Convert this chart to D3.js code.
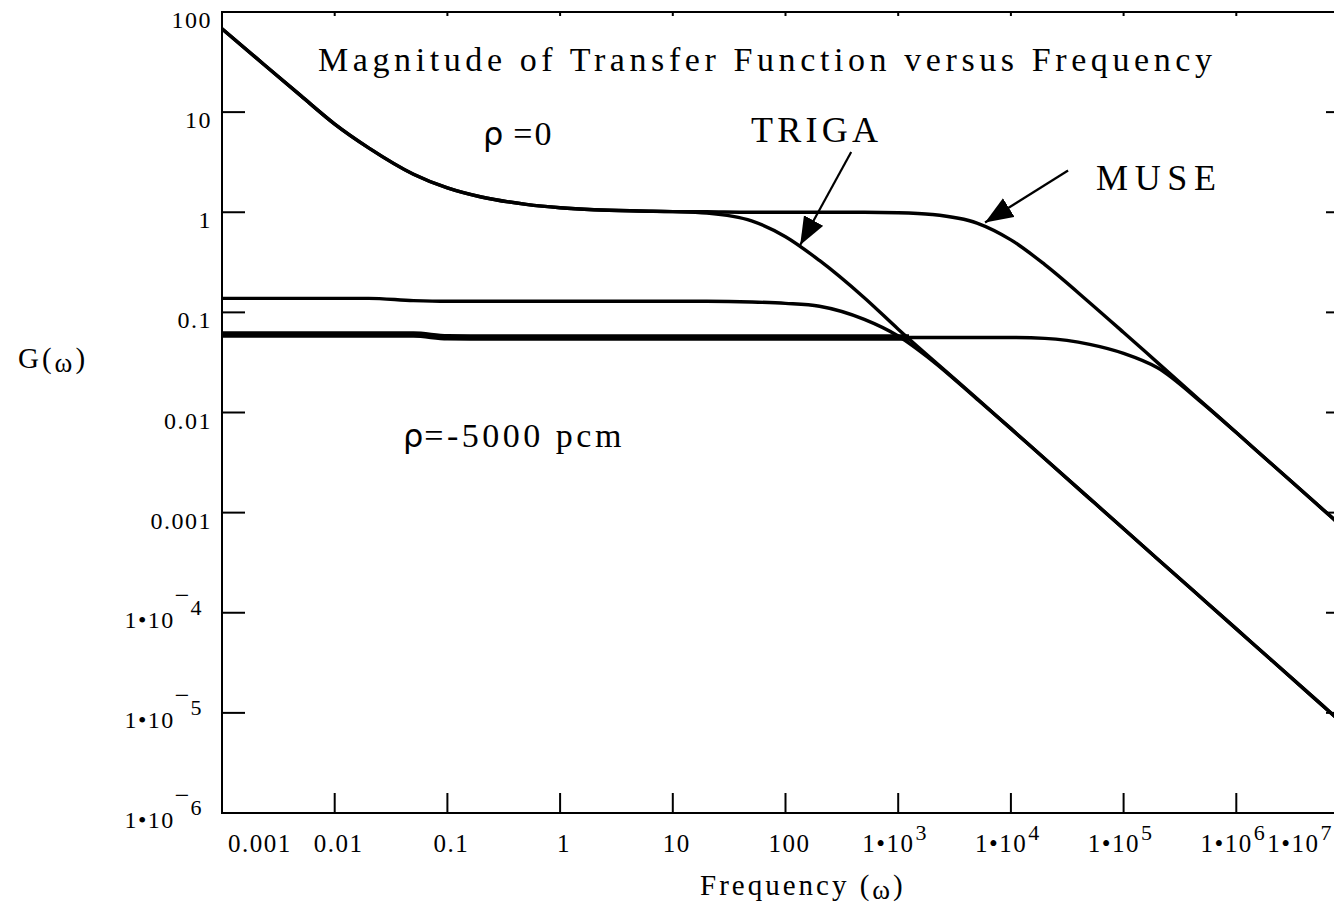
<!DOCTYPE html>
<html><head><meta charset="utf-8">
<script src="https://cdn.jsdelivr.net/npm/d3@7"></script>
<style>body{margin:0;background:#fff}</style>
</head><body>
<script>
// ---------------- data ----------------
const freq = [0.001, 0.002, 0.005, 0.01, 0.02, 0.05, 0.1, 0.2, 0.5, 1, 2, 5, 10, 20, 50, 100, 200, 500,
  1e3, 2e3, 5e3, 1e4, 2e4, 5e4, 1e5, 2e5, 5e5, 1e6, 2e6, 5e6, 1e7];
const gTrigaRho0 = [68, 35, 14.6, 7.6, 4.4, 2.4, 1.75, 1.42, 1.2, 1.11, 1.06, 1.03, 1.015, 0.98, 0.82, 0.57, 0.33, 0.14,
  0.068, 0.034, 0.0138, 0.0069, 0.00345, 0.00138, 6.9e-4, 3.45e-4, 1.38e-4, 6.9e-5, 3.45e-5, 1.38e-5, 6.9e-6];
const gMuseRho0 = [68, 35, 14.6, 7.6, 4.4, 2.4, 1.75, 1.42, 1.2, 1.11, 1.06, 1.03, 1.015, 1.01, 1.0, 1.0, 1.0, 1.0,
  0.99, 0.95, 0.78, 0.53, 0.3, 0.125, 0.063, 0.0315, 0.0126, 0.0063, 0.00315, 0.00126, 6.3e-4];
const gTrigaRho5000 = [0.138, 0.138, 0.138, 0.138, 0.138, 0.131, 0.129, 0.129, 0.129, 0.129, 0.129, 0.129, 0.129, 0.129, 0.127, 0.123, 0.115, 0.085,
  0.058, 0.033, 0.0136, 0.0069, 0.00345, 0.00138, 6.9e-4, 3.45e-4, 1.38e-4, 6.9e-5, 3.45e-5, 1.38e-5, 6.9e-6];
const gMuseRho5000 = [0.06, 0.06, 0.06, 0.06, 0.06, 0.06, 0.0565, 0.0562, 0.0562, 0.0562, 0.0562, 0.0562, 0.0562, 0.0562, 0.0562, 0.0562, 0.0562, 0.0562,
  0.0562, 0.0562, 0.0562, 0.0561, 0.055, 0.048, 0.039, 0.028, 0.0124, 0.0063, 0.00315, 0.00126, 6.3e-4];

const xTickValues = [1e-3, 1e-2, 1e-1, 1, 10, 100, 1e3, 1e4, 1e5, 1e6, 1e7];
const xTickLabels = ["0.001", "0.01", "0.1", "1", "10", "100", "1\u202210^3", "1\u202210^4", "1\u202210^5", "1\u202210^6", "1\u202210^7"];
const yTickValues = [100, 10, 1, 0.1, 0.01, 0.001, 1e-4, 1e-5, 1e-6];
const yTickLabels = ["100", "10", "1", "0.1", "0.01", "0.001", "1\u202210^\u22124", "1\u202210^\u22125", "1\u202210^\u22126"];

const titleText = "Magnitude of Transfer Function versus Frequency";
const xTitle = "Frequency (";
const yTitle = "G(";
const omega = "\u03c9";

// ---------------- drawing ----------------
const serif = "'Liberation Serif','Times New Roman',serif";
const W = 1334, H = 907;
const x = d3.scaleLog().domain([1e-3, 1e7]).range([222, 1349]);
const y = d3.scaleLog().domain([1e-6, 100]).range([813, 12]);

const svg = d3.select("body").append("svg").attr("width", W).attr("height", H).style("display", "block");
svg.append("rect").attr("width", W).attr("height", H).attr("fill", "#fff");
const defs = svg.append("defs");
defs.append("clipPath").attr("id", "plotClip").append("rect")
  .attr("x", x(1e-3)).attr("y", y(100)).attr("width", x(1e7) - x(1e-3)).attr("height", y(1e-6) - y(100));
defs.append("clipPath").attr("id", "thickClip").append("rect")
  .attr("x", x(1e-3)).attr("y", y(100)).attr("width", x(1250) - x(1e-3)).attr("height", y(1e-6) - y(100));
defs.append("marker").attr("id", "arrow").attr("markerUnits", "userSpaceOnUse")
  .attr("markerWidth", 30).attr("markerHeight", 24).attr("refX", 28).attr("refY", 11).attr("orient", "auto")
  .append("path").attr("d", "M0,0 L28,11 L0,22 Z").attr("fill", "#000");

// frame
const frame = svg.append("g").attr("stroke", "#000").attr("stroke-width", 2).attr("fill", "none");
frame.append("line").attr("x1", x(1e-3)).attr("x2", x(1e-3)).attr("y1", y(100) - 1).attr("y2", y(1e-6) + 1);
frame.append("line").attr("x1", x(1e-3)).attr("x2", x(1e7)).attr("y1", y(1e-6)).attr("y2", y(1e-6));
frame.append("line").attr("x1", x(1e-3)).attr("x2", x(1e7)).attr("y1", y(100)).attr("y2", y(100));
frame.append("line").attr("x1", x(1e7)).attr("x2", x(1e7)).attr("y1", y(100)).attr("y2", y(1e-6));

// ticks
const ticks = svg.append("g").attr("stroke", "#000").attr("stroke-width", 2);
yTickValues.forEach(v => {
  ticks.append("line").attr("x1", x(1e-3)).attr("x2", x(1e-3) + 23).attr("y1", y(v)).attr("y2", y(v));
  ticks.append("line").attr("x1", x(1e7) - 23).attr("x2", x(1e7)).attr("y1", y(v)).attr("y2", y(v));
});
xTickValues.forEach(v => {
  ticks.append("line").attr("x1", x(v)).attr("x2", x(v)).attr("y1", y(1e-6) - 20).attr("y2", y(1e-6));
  ticks.append("line").attr("x1", x(v)).attr("x2", x(v)).attr("y1", y(100)).attr("y2", y(100) + 4);
});

// tick labels
function label(g, str, size, expSize, expDy) {
  const parts = str.split("^");
  const t = g.append("text").attr("font-family", serif).attr("font-size", size).attr("letter-spacing", 1.5).attr("fill", "#000");
  t.append("tspan").text(parts[0]);
  if (parts.length > 1) {
    let e = parts[1];
    if (e[0] === "\u2212") {
      t.append("tspan").attr("dx", 0).attr("dy", -24).attr("font-size", expSize + 4).attr("letter-spacing", 0).text("\u2212");
      t.append("tspan").attr("dx", 1).attr("dy", 11).attr("font-size", expSize).text(e.slice(1));
    } else {
      t.append("tspan").attr("dx", 1).attr("dy", expDy).attr("font-size", expSize).text(e);
    }
  }
  return t;
}
const ylab = svg.append("g");
yTickValues.forEach((v, i) => {
  const s = yTickLabels[i];
  if (s.includes("^")) {
    label(ylab, s, 24, 22).attr("x", 203).attr("y", y(v) + 15).attr("text-anchor", "end");
  } else {
    label(ylab, s, 24).attr("x", 212).attr("y", y(v) + 16).attr("text-anchor", "end");
  }
});
const xlab = svg.append("g");
xTickValues.forEach((v, i) => {
  const s = xTickLabels[i];
  const t = label(xlab, s, 25, 22, -12);
  t.attr("y", 852);
  if (i === 0) t.attr("x", x(v) + 6).attr("text-anchor", "start");
  else if (i === xTickValues.length - 1) t.attr("x", 1333).attr("text-anchor", "end");
  else if (s.includes("^")) t.attr("x", x(v) - 3).attr("text-anchor", "middle");
  else t.attr("x", x(v) + 4).attr("text-anchor", "middle");
});

// curves
const line = d3.line().x(d => x(d[0])).y(d => y(d[1])).curve(d3.curveMonotoneX);
const series = [gTrigaRho0, gMuseRho0, gTrigaRho5000, gMuseRho5000];
const curves = svg.append("g").attr("clip-path", "url(#plotClip)").attr("fill", "none").attr("stroke", "#000")
  .attr("stroke-linejoin", "round");
series.forEach(vals => {
  curves.append("path").attr("d", line(freq.map((f, i) => [f, vals[i]]))).attr("stroke-width", 3.4);
});
svg.append("path").attr("clip-path", "url(#thickClip)").attr("fill", "none").attr("stroke", "#000")
  .attr("stroke-width", 6.5).attr("d", line(freq.map((f, i) => [f, gMuseRho5000[i]])));

// annotations
const ann = svg.append("g").attr("font-family", serif).attr("fill", "#000");
ann.append("text").attr("x", 318).attr("y", 71).attr("font-size", 34)
  .attr("textLength", 894).attr("lengthAdjust", "spacing").text(titleText);
const r0 = ann.append("text").attr("x", 483).attr("y", 145).attr("font-size", 34);
r0.append("tspan").attr("font-family", "'DejaVu Sans',sans-serif").attr("font-size", 32).text("\u03c1");
r0.append("tspan").attr("dx", 10).attr("letter-spacing", 2).text("=0");
ann.append("text").attr("x", 751).attr("y", 142).attr("font-size", 36)
  .attr("textLength", 127).attr("lengthAdjust", "spacing").text("TRIGA");
ann.append("text").attr("x", 1096).attr("y", 190).attr("font-size", 36)
  .attr("textLength", 120).attr("lengthAdjust", "spacing").text("MUSE");
const r5 = ann.append("text").attr("x", 403).attr("y", 447).attr("font-size", 34).attr("letter-spacing", 3.5);
r5.append("tspan").attr("font-family", "'DejaVu Sans',sans-serif").attr("font-size", 32).attr("letter-spacing", 1).text("\u03c1");
r5.append("tspan").text("=-5000 pcm");
const gt = ann.append("text").attr("x", 18).attr("y", 368).attr("font-size", 29).attr("letter-spacing", 3);
gt.append("tspan").text(yTitle);
gt.append("tspan").attr("font-size", 27).attr("dy", 4).text(omega);
gt.append("tspan").attr("dy", -4).text(")");
const ft = ann.append("text").attr("x", 700).attr("y", 895).attr("font-size", 29).attr("letter-spacing", 3);
ft.append("tspan").text(xTitle);
ft.append("tspan").attr("font-size", 27).attr("dy", 4).text(omega);
ft.append("tspan").attr("dy", -4).text(")");

// arrows
const arrows = svg.append("g").attr("stroke", "#000").attr("stroke-width", 2.2);
const trigaTip = [x(135), y(0.47)];
const museTip = [x(5900), y(0.79)];
arrows.append("line").attr("x1", trigaTip[0] + 51).attr("y1", trigaTip[1] - 93)
  .attr("x2", trigaTip[0]).attr("y2", trigaTip[1]).attr("marker-end", "url(#arrow)");
arrows.append("line").attr("x1", museTip[0] + 83).attr("y1", museTip[1] - 52)
  .attr("x2", museTip[0]).attr("y2", museTip[1]).attr("marker-end", "url(#arrow)");
</script>
</body></html>
